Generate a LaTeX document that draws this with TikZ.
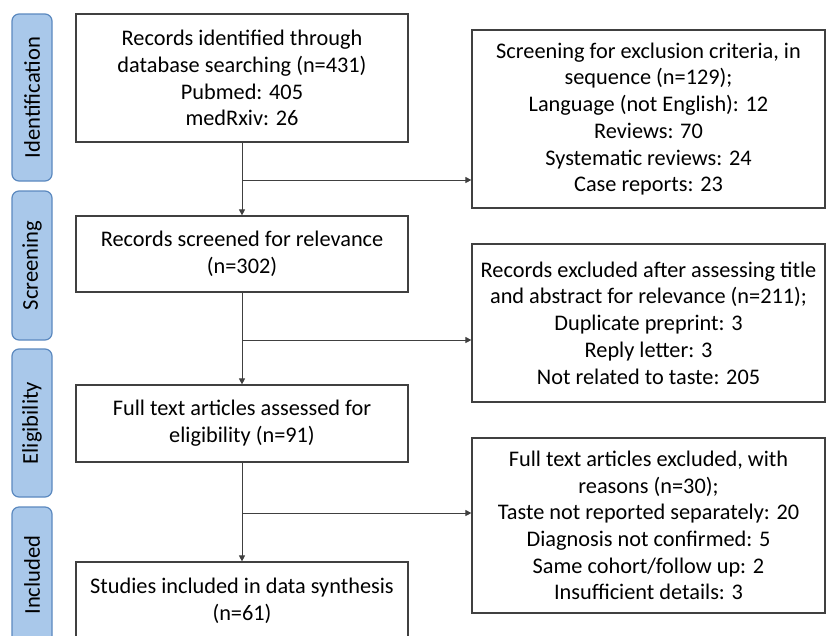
\documentclass[tikz,border=0pt]{standalone}
\usepackage{fontspec}
\setmainfont{Carlito}
\usetikzlibrary{arrows.meta}
\definecolor{phasefill}{HTML}{A9C8EA}
\definecolor{phasedraw}{HTML}{5B89BF}
\definecolor{linegray}{HTML}{404040}
\begin{document}
\begin{tikzpicture}[x=1pt,y=-1pt,
  every node/.style={font=\fontsize{22.3}{26.7}\selectfont, text=black},
  plabel/.style={rotate=90, font=\fontsize{22.6}{26.7}\selectfont},
  box/.style={draw=linegray, line width=1.2pt, align=center, inner sep=0pt},
  phase/.style={draw=phasedraw, fill=phasefill, line width=1.2pt, rounded corners=7pt, inner sep=0pt},
  conn/.style={draw=linegray, line width=0.9pt},
  arr/.style={conn, -{Triangle[length=6pt,width=6pt]}}]
\useasboundingbox (0,0) rectangle (826,635);
\clip (0,0) rectangle (826,635);
% phase bars
\node[phase, minimum width=40pt, minimum height=167pt] (p1) at (32,97.5) {};
\node[plabel] (t1) at (p1.center) {Identification};
\node[phase, minimum width=40pt, minimum height=149pt] (p2) at (32,265.5) {};
\node[plabel] (t2) at (p2.center) {Screening};
\node[phase, minimum width=40pt, minimum height=148pt] (p3) at (32,423) {};
\node[plabel] (t3) at (p3.center) {Eligibility};
\node[phase, minimum width=40pt, minimum height=136pt] (p4) at (32,575) {};
\node[plabel] (t4) at (p4.center) {Included};
% main boxes
\node[box, minimum width=332pt, minimum height=128pt] (b1) at (242,78)
  {Records identified through\\database searching (n=431)\\Pubmed: 405\\medRxiv: 26};
\node[box, minimum width=332pt, minimum height=76pt] (b2) at (242,254)
  {Records screened for relevance\\(n=302)};
\node[box, minimum width=332pt, minimum height=77pt] (b3) at (242,423.5)
  {Full text articles assessed for\\eligibility (n=91)};
\node[box, minimum width=332pt, minimum height=78pt] (b4) at (242,601)
  {Studies included in data synthesis\\(n=61)};
% exclusion boxes
\node[box, minimum width=353pt, minimum height=178pt] (e1) at (648.5,119)
  {Screening for exclusion criteria, in\\sequence (n=129);\\Language (not English): 12\\Reviews: 70\\Systematic reviews: 24\\Case reports: 23};
\node[box, minimum width=353pt, minimum height=158pt] (e2) at (648.5,323)
  {Records excluded after assessing title\\and abstract for relevance (n=211);\\Duplicate preprint: 3\\Reply letter: 3\\Not related to taste: 205};
\node[box, minimum width=353pt, minimum height=175pt] (e3) at (648.5,525.5)
  {Full text articles excluded, with\\reasons (n=30);\\Taste not reported separately: 20\\Diagnosis not confirmed: 5\\Same cohort/follow up: 2\\Insufficient details: 3};
% connectors
\coordinate (j1) at (b1.south |- 0,180);
\coordinate (j2) at (b2.south |- 0,340);
\coordinate (j3) at (b3.south |- 0,513);
\draw[arr] (b1.south) -- (b2.north);
\draw[arr] (j1) -- (j1 -| e1.west);
\draw[arr] (b2.south) -- (b3.north);
\draw[arr] (j2) -- (j2 -| e2.west);
\draw[arr] (b3.south) -- (b4.north);
\draw[arr] (j3) -- (j3 -| e3.west);
\end{tikzpicture}
\end{document}
